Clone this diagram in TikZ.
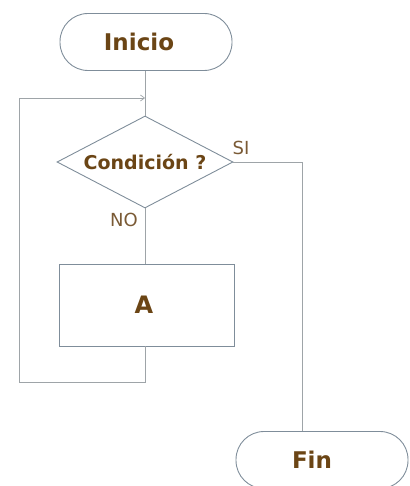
\documentclass[tikz,border=0pt]{standalone}
\usepackage{fontspec}
\setmainfont{DejaVu Sans}
\usetikzlibrary{shapes.geometric,arrows.meta}
\definecolor{edge}{HTML}{7F8D9A}
\definecolor{wire}{HTML}{9EA4A8}
\definecolor{ink}{HTML}{6B4515}
\definecolor{labelink}{HTML}{7A5A35}
\tikzset{
  terminal/.style={draw=edge, line width=0.9pt, rounded corners=28pt, minimum width=172pt, minimum height=57pt, font=\bfseries\fontsize{23}{26}\selectfont, text=ink, inner sep=0pt},
  decision/.style={draw=edge, line width=0.9pt, diamond, aspect=1.9, minimum width=176pt, minimum height=92pt, font=\bfseries\fontsize{19}{22}\selectfont, text=ink, inner sep=0pt},
  process/.style={draw=edge, line width=0.9pt, rectangle, minimum width=175pt, minimum height=82pt, font=\bfseries\fontsize{24}{26}\selectfont, text=ink, inner sep=0pt},
  flow/.style={draw=wire, line width=0.7pt},
  branch/.style={font=\fontsize{18}{20}\selectfont, text=labelink, inner sep=0pt}
}
\begin{document}
\begin{tikzpicture}[x=1pt,y=-1pt]
  \useasboundingbox (0,0) rectangle (409,486);
  \node[terminal] (inicio) at (146,42) {Inicio\kern14pt\relax};
  \node[decision] (cond) at (145,162) {Condición ?};
  \node[process] (a) at (147,305) {A\kern6pt\relax};
  \node[terminal] (fin) at (322,460) {Fin\kern20pt\relax};
  \coordinate (join) at (145,98);
  \coordinate (loopbl) at (19,382);
  \coordinate (sicorner) at (302,162);
  \draw[flow] (inicio.south -| join) -- (cond.north);
  \draw[flow, -{Straight Barb[length=4pt,width=6pt]}] (a.south -| join) |- (loopbl) |- (join);
  \draw[flow] (cond.east) -- (sicorner) -- (sicorner |- fin.north);
  \draw[flow] (cond.south) -- (a.north -| cond.south);
  \node[branch] (si) at (241,148) {SI};
  \node[branch] (no) at (124,220) {NO};
\end{tikzpicture}
\end{document}
